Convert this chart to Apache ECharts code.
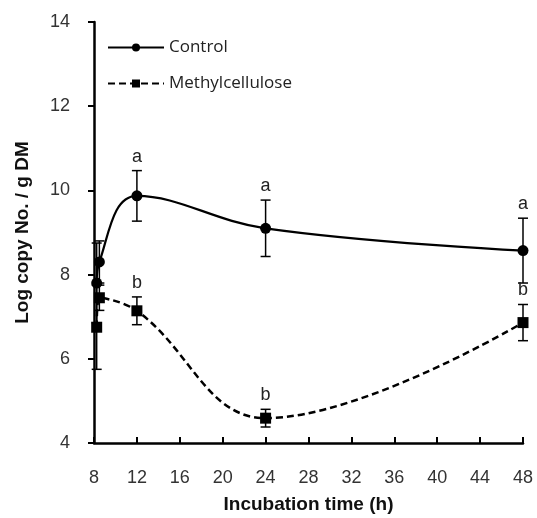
<!DOCTYPE html>
<html>
<head>
<meta charset="utf-8">
<script src="https://cdn.jsdelivr.net/npm/echarts@6/dist/echarts.min.js"></script>
<style>
  html, body { margin: 0; padding: 0; background: #fff; }
  #chart { width: 537px; height: 518px; }
</style>
</head>
<body>
<div id="chart"></div>
<script>
// 数据
var hours = [8.25, 8.5, 12, 24, 48];
var controlMean = [7.8, 8.3, 9.87, 9.1, 8.57];
var controlErr = [0.95, 0.5, 0.6, 0.67, 0.77];
var controlLetter = ['', '', 'a', 'a', 'a'];
var methylMean = [6.75, 7.45, 7.14, 4.59, 6.86];
var methylErr = [1.0, 0.3, 0.33, 0.21, 0.43];
var methylLetter = ['', '', 'b', 'b', 'b'];
var xTicks = [8, 12, 16, 20, 24, 28, 32, 36, 40, 44, 48];

function pairs(xs, ys) {
    return xs.map(function (x, i) { return [x, ys[i]]; });
}
function errRows(xs, ys, es, letters) {
    return xs.map(function (x, i) { return [x, ys[i] - es[i], ys[i] + es[i], letters[i]]; });
}

function renderErr(params, api) {
    var x = api.value(0);
    var lo = api.coord([x, api.value(1)]);
    var hi = api.coord([x, api.value(2)]);
    var half = 5;
    var st = { stroke: '#000', lineWidth: 1.5 };
    var kids = [
        { type: 'line', shape: { x1: lo[0], y1: lo[1], x2: hi[0], y2: hi[1] }, style: st },
        { type: 'line', shape: { x1: lo[0] - half, y1: lo[1], x2: lo[0] + half, y2: lo[1] }, style: st },
        { type: 'line', shape: { x1: hi[0] - half, y1: hi[1], x2: hi[0] + half, y2: hi[1] }, style: st }
    ];
    var letter = api.value(3);
    if (letter) {
        kids.push({
            type: 'text',
            style: {
                text: letter, x: hi[0], y: hi[1] - 5,
                align: 'center', verticalAlign: 'bottom',
                fill: '#222', font: '18px "Liberation Sans", Arial'
            }
        });
    }
    return { type: 'group', children: kids };
}

var myChart = echarts.init(document.getElementById('chart'));

var option = {
    animation: false,
    backgroundColor: '#fff',
    textStyle: { fontFamily: '"Liberation Sans", Arial' },
    grid: { left: 94, right: 14, top: 22, bottom: 75, containLabel: false, outerBoundsMode: 'none' },
    legend: {
        orient: 'vertical',
        left: 102,
        top: 34,
        itemWidth: 56,
        itemHeight: 10,
        itemGap: 19,
        data: ['Control', 'Methylcellulose'],
        textStyle: { fontSize: 17, color: '#222', fontFamily: '"Open Sans", "Noto Sans", sans-serif' }
    },
    xAxis: {
        type: 'value',
        min: 8,
        max: 48,
        interval: 4,
        name: 'Incubation time (h)',
        nameLocation: 'middle',
        nameGap: 52,
        nameTextStyle: { fontSize: 19, fontWeight: 'bold', color: '#111' },
        axisLine: { lineStyle: { color: '#000', width: 2.5 } },
        axisTick: { inside: true, length: 6, lineStyle: { color: '#000', width: 2 } },
        axisLabel: {
            fontSize: 18, color: '#333', margin: 26,
            customValues: xTicks
        },
        splitLine: { show: false }
    },
    yAxis: {
        type: 'value',
        min: 4,
        max: 14,
        interval: 2,
        name: 'Log copy No. / g DM',
        nameLocation: 'middle',
        nameGap: 62,
        nameTextStyle: { fontSize: 19, fontWeight: 'bold', color: '#111' },
        axisLine: { show: true, lineStyle: { color: '#000', width: 2.5 } },
        axisTick: { show: true, length: 6, lineStyle: { color: '#000', width: 2 } },
        axisLabel: { fontSize: 18, color: '#333', margin: 24 },
        splitLine: { show: false }
    },
    series: [
        {
            name: 'Control',
            type: 'line',
            smooth: 0.4,
            symbol: 'circle',
            symbolSize: 11,
            data: pairs(hours, controlMean),
            itemStyle: { color: '#000' },
            lineStyle: { color: '#000', width: 2.2 },
            z: 3
        },
        {
            name: 'Methylcellulose',
            type: 'line',
            smooth: 0.4,
            symbol: 'rect',
            symbolSize: 11,
            data: pairs(hours, methylMean),
            itemStyle: { color: '#000' },
            lineStyle: { color: '#000', width: 2.5, type: [7, 4] },
            z: 3
        },
        {
            type: 'custom',
            renderItem: renderErr,
            data: errRows(hours, controlMean, controlErr, controlLetter),
            encode: { x: 0, y: [1, 2] },
            z: 2
        },
        {
            type: 'custom',
            renderItem: renderErr,
            data: errRows(hours, methylMean, methylErr, methylLetter),
            encode: { x: 0, y: [1, 2] },
            z: 2
        }
    ]
};
myChart.setOption(option);
</script>
</body>
</html>
